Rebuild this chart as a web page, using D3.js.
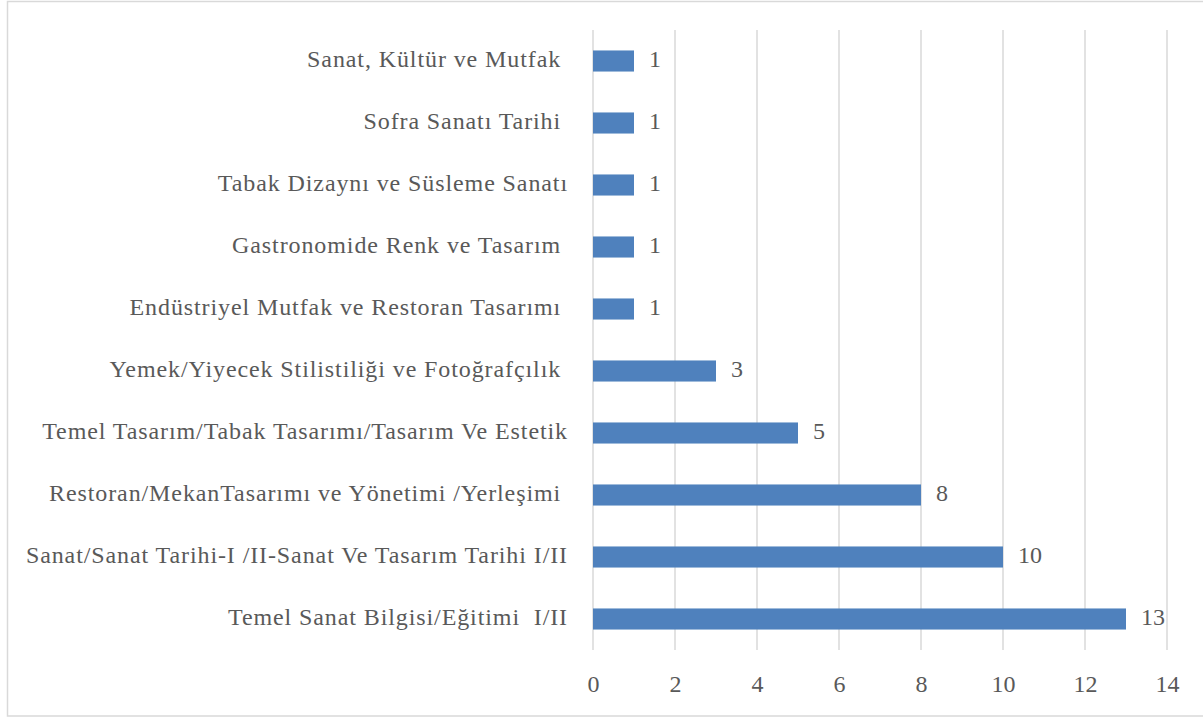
<!DOCTYPE html>
<html>
<head>
<meta charset="utf-8">
<script src="https://cdn.jsdelivr.net/npm/d3@7"></script>
<style>
  html, body { margin: 0; padding: 0; background: #fff; }
  svg { display: block; }
  text { white-space: pre; }
</style>
</head>
<body>
<svg id="chart" width="1203" height="718"></svg>
<script>
const categories = [
  "Sanat, Kültür ve Mutfak ",
  "Sofra Sanatı Tarihi ",
  "Tabak Dizaynı ve Süsleme Sanatı",
  "Gastronomide Renk ve Tasarım ",
  "Endüstriyel Mutfak ve Restoran Tasarımı ",
  "Yemek/Yiyecek Stilistiliği ve Fotoğrafçılık ",
  "Temel Tasarım/Tabak Tasarımı/Tasarım Ve Estetik",
  "Restoran/MekanTasarımı ve Yönetimi /Yerleşimi ",
  "Sanat/Sanat Tarihi-I /II-Sanat Ve Tasarım Tarihi I/II",
  "Temel Sanat Bilgisi/Eğitimi  I/II"
];
const values = [1, 1, 1, 1, 1, 3, 5, 8, 10, 13];
const xTicks = [0, 2, 4, 6, 8, 10, 12, 14];

const svg = d3.select("#chart");
const W = 1203, H = 718;
const margin = { left: 593, right: 36, top: 30, bottom: 68 };
const font = "'Liberation Serif', 'Times New Roman', serif";
const textColor = "#595959";
const fs = 24;

// outer border
svg.append("rect")
  .attr("x", 7.5).attr("y", 1.5)
  .attr("width", 1210).attr("height", 714.5)
  .attr("fill", "none").attr("stroke", "#d9d9d9").attr("stroke-width", 1.5);

const x = d3.scaleLinear().domain([0, 14]).range([margin.left, W - margin.right]);
const y = d3.scaleBand().domain(categories).range([margin.top, H - margin.bottom]).paddingInner(0.66).paddingOuter(0.33);

// gridlines
svg.append("g").selectAll("line").data(xTicks).join("line")
  .attr("x1", d => x(d)).attr("x2", d => x(d))
  .attr("y1", margin.top).attr("y2", H - margin.bottom)
  .attr("stroke", "#d9d9d9").attr("stroke-width", 1.5);

// x axis tick labels
const xAxis = d3.axisBottom(x).tickValues(xTicks).tickSize(0).tickPadding(0);
const gx = svg.append("g").attr("transform", `translate(0,${H - margin.bottom})`).call(xAxis);
gx.select(".domain").remove();
gx.selectAll("text")
  .attr("dy", null).attr("y", 36).attr("dominant-baseline", "middle")
  .attr("font-family", font).attr("font-size", fs).attr("fill", textColor);

// y axis labels
const yAxis = d3.axisLeft(y).tickSize(0).tickPadding(0);
const gy = svg.append("g").attr("transform", `translate(${margin.left - 25},0)`).call(yAxis);
gy.select(".domain").remove();
gy.selectAll("text")
  .attr("dy", null).attr("x", 0).attr("dominant-baseline", "middle")
  .attr("font-family", font).attr("font-size", fs).attr("fill", textColor)
  .attr("letter-spacing", 0.9)
  .attr("xml:space", "preserve");

// bars
svg.append("g").selectAll("rect").data(values).join("rect")
  .attr("x", x(0))
  .attr("y", (d, i) => y(categories[i]))
  .attr("width", d => x(d) - x(0))
  .attr("height", y.bandwidth())
  .attr("fill", "#4f81bd");

// value labels
svg.append("g").selectAll("text").data(values).join("text")
  .attr("x", d => x(d) + 15)
  .attr("y", (d, i) => y(categories[i]) + y.bandwidth() / 2)
  .attr("dominant-baseline", "middle")
  .attr("font-family", font).attr("font-size", fs).attr("fill", textColor)
  .text(d => d);
</script>
</body>
</html>
